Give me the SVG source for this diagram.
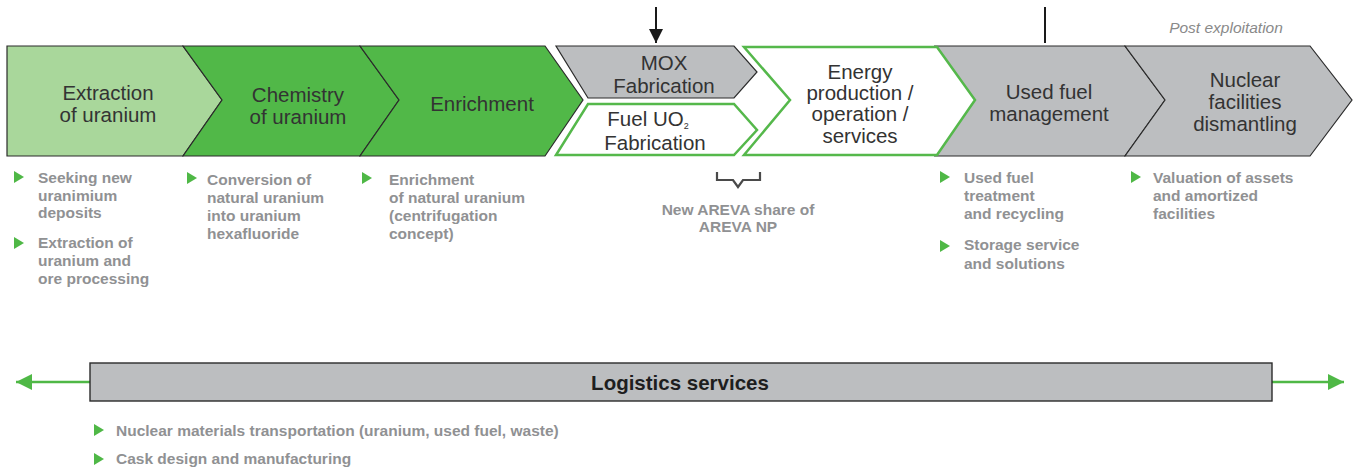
<svg xmlns="http://www.w3.org/2000/svg" width="1353" height="473" viewBox="0 0 1353 473">
  <defs>
    <style>
      .stage { stroke: #2b2b2b; stroke-width: 1.2; stroke-linejoin: miter; }
      .light { fill: #a9d79b; }
      .dark { fill: #51b848; }
      .grey { fill: #bcbec0; }
      .open { fill: #ffffff; stroke: #55b84b; stroke-width: 2.5; }
      .lbl { font-family: "Liberation Sans", Arial, sans-serif; font-size: 20.5px; fill: #333333; text-anchor: middle; }
      .note { font-family: "Liberation Sans", Arial, sans-serif; font-size: 15.5px; font-weight: bold; fill: #909193; }
      .bul { fill: #4fb846; }
      .conn { stroke: #1a1a1a; stroke-width: 2; fill: none; }
      .green-line { stroke: #4fb846; stroke-width: 2.5; fill: none; }
    </style>
    <marker id="head" viewBox="0 0 10 10" refX="10" refY="5" markerWidth="15" markerHeight="14" markerUnits="userSpaceOnUse" orient="auto">
      <path d="M0,0 L10,5 L0,10 Z" fill="#1a1a1a"/>
    </marker>
    <marker id="garrow" viewBox="0 0 10 10" refX="10" refY="5" markerWidth="16" markerHeight="18" markerUnits="userSpaceOnUse" orient="auto">
      <path d="M0,0 L10,5 L0,10 Z" fill="#4fb846"/>
    </marker>
    <path id="tri" d="M0,-6 L10,0 L0,6 Z"/>
  </defs>

  <!-- value chain stages -->
  <g id="stage-extraction">
    <polygon class="stage light" points="7,46 183,46 222,100 183,156 7,156"/>
    <text class="lbl" x="108" y="100">Extraction</text>
    <text class="lbl" x="108" y="122">of uranium</text>
  </g>
  <g id="stage-chemistry">
    <polygon class="stage dark" points="183,46 360,46 399,100 360,156 183,156 222,100"/>
    <text class="lbl" x="298" y="102">Chemistry</text>
    <text class="lbl" x="298" y="124">of uranium</text>
  </g>
  <g id="stage-enrichment">
    <polygon class="stage dark" points="360,46 545,46 583,100 545,156 360,156 399,100"/>
    <text class="lbl" x="482" y="111">Enrichment</text>
  </g>
  <g id="stage-mox">
    <polygon class="stage grey" points="556,46 734,46 757,72 734,98 588,98"/>
    <text class="lbl" x="664" y="70">MOX</text>
    <text class="lbl" x="664" y="93">Fabrication</text>
  </g>
  <g id="stage-uo2">
    <polygon class="open" points="588,104 734,104 757,130 734,155 556,155"/>
    <text class="lbl" x="648" y="126" font-size="19">Fuel UO<tspan dy="3" font-size="9">2</tspan></text>
    <text class="lbl" x="655" y="150" font-size="19">Fabrication</text>
  </g>
  <g id="stage-used-fuel">
    <polygon class="stage grey" points="935,46 1125,46 1165,100 1125,156 935,156 975,100"/>
    <text class="lbl" x="1049" y="99">Used fuel</text>
    <text class="lbl" x="1049" y="121">management</text>
  </g>
  <g id="stage-energy">
    <polygon class="open" points="744,47 937,47 975,100 937,155 744,155 790,100"/>
    <text class="lbl" x="860" y="79">Energy</text>
    <text class="lbl" x="860" y="100">production /</text>
    <text class="lbl" x="860" y="121">operation /</text>
    <text class="lbl" x="860" y="143">services</text>
  </g>
  <g id="stage-dismantling">
    <polygon class="stage grey" points="1125,46 1310,46 1352,100 1310,156 1125,156 1165,100"/>
    <text class="lbl" x="1245" y="87">Nuclear</text>
    <text class="lbl" x="1245" y="109">facilities</text>
    <text class="lbl" x="1245" y="131">dismantling</text>
  </g>
  <text id="post-exploitation" x="1226" y="33" font-family="Liberation Sans, Arial, sans-serif" font-size="15.5" font-style="italic" fill="#8a8a8a" text-anchor="middle">Post exploitation</text>

  <!-- connectors -->
  <g id="connectors">
    <line class="conn" x1="656" y1="7" x2="656" y2="43" marker-end="url(#head)"/>
    <line class="conn" x1="1045" y1="7" x2="1045" y2="43"/>
    <line class="green-line" x1="90" y1="382" x2="16" y2="382" marker-end="url(#garrow)"/>
    <line class="green-line" x1="1272" y1="382" x2="1344" y2="382" marker-end="url(#garrow)"/>
  </g>

  <!-- activity notes -->
  <g id="notes-extraction">
    <use href="#tri" class="bul" x="14" y="177"/>
    <text class="note" x="38" y="183">Seeking new</text>
    <text class="note" x="38" y="201">uranimium</text>
    <text class="note" x="38" y="218">deposits</text>
    <use href="#tri" class="bul" x="14" y="243"/>
    <text class="note" x="38" y="248">Extraction of</text>
    <text class="note" x="38" y="266">uranium and</text>
    <text class="note" x="38" y="284">ore processing</text>
  </g>
  <g id="notes-chemistry">
    <use href="#tri" class="bul" x="187" y="178"/>
    <text class="note" x="207" y="185">Conversion of</text>
    <text class="note" x="207" y="203">natural uranium</text>
    <text class="note" x="207" y="221">into uranium</text>
    <text class="note" x="207" y="239">hexafluoride</text>
  </g>
  <g id="notes-enrichment">
    <use href="#tri" class="bul" x="362" y="178"/>
    <text class="note" x="389" y="185">Enrichment</text>
    <text class="note" x="389" y="203">of natural uranium</text>
    <text class="note" x="389" y="221">(centrifugation</text>
    <text class="note" x="389" y="239">concept)</text>
  </g>
  <g id="notes-areva-np">
    <path d="M717,172 V180 H733 L738,187 L743,180 H760 V172" fill="none" stroke="#4a4a4a" stroke-width="2.2"/>
    <text class="note" x="738" y="215" text-anchor="middle">New AREVA share of</text>
    <text class="note" x="738" y="232" text-anchor="middle">AREVA NP</text>
  </g>
  <g id="notes-used-fuel">
    <use href="#tri" class="bul" x="940" y="177"/>
    <text class="note" x="964" y="183">Used fuel</text>
    <text class="note" x="964" y="201">treatment</text>
    <text class="note" x="964" y="219">and recycling</text>
    <use href="#tri" class="bul" x="940" y="246"/>
    <text class="note" x="964" y="250">Storage service</text>
    <text class="note" x="964" y="269">and solutions</text>
  </g>
  <g id="notes-dismantling">
    <use href="#tri" class="bul" x="1131" y="177"/>
    <text class="note" x="1153" y="183">Valuation of assets</text>
    <text class="note" x="1153" y="201">and amortized</text>
    <text class="note" x="1153" y="219">facilities</text>
  </g>

  <!-- logistics band -->
  <g id="logistics">
    <rect x="90" y="363" width="1182" height="38" fill="#bcbec0" stroke="#2b2b2b" stroke-width="1.4"/>
    <text x="680" y="390" font-family="Liberation Sans, Arial, sans-serif" font-size="20.5" font-weight="bold" fill="#1e1e1e" text-anchor="middle">Logistics services</text>
  </g>
  <g id="notes-logistics">
    <use href="#tri" class="bul" x="94" y="430"/>
    <text class="note" x="116" y="436">Nuclear materials transportation (uranium, used fuel, waste)</text>
    <use href="#tri" class="bul" x="94" y="459"/>
    <text class="note" x="116" y="464">Cask design and manufacturing</text>
  </g>
</svg>
